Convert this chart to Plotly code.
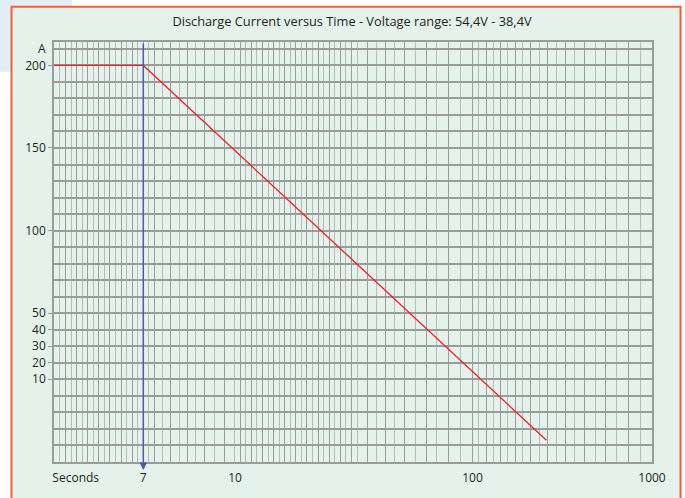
import numpy as np
import plotly.graph_objects as go

# ---------------- data ----------------
title_text = "Discharge Current versus Time - Voltage range: 54,4V - 38,4V"
time_s = [1, 7, 258]            # seconds
current_a = [200, 200, -27]     # amperes
x_tick_secs = [7, 10, 100, 1000]
x_tick_text = ["7", "10", "100", "1000"]
y_tick_vals = [200, 150, 100, 50, 40, 30, 20, 10]
y_tick_text = ["200", "150", "100", "50", "40", "30", "20", "10"]
marker_time_s = 7

# ---------------- layout / scale (the chart uses a piecewise time scale) ----------------
PL, PR = 54.0, 652.0
anchor_secs = [1, 7, 10, 100, 1000]
anchor_px = [54.0, 143.3, 235.0, 472.5, 652.0]


def sx(s):
    return np.interp(np.log10(np.asarray(s, dtype=float)), np.log10(anchor_secs),
                     np.asarray(anchor_px) - PL)


grid_px = [54.3, 59.9, 65.4, 71.0, 76.5, 82.1, 87.7, 93.2, 98.8, 104.3, 109.9, 115.5, 121.0,
           126.6, 132.1, 137.7, 143.3, 148.7, 154.3, 162.3, 170.7, 179.0, 187.3, 195.7, 204.0,
           214.0, 224.0, 234.5, 240.0, 245.7, 251.2, 256.8, 262.3, 268.0, 273.5, 279.0, 284.5,
           290.2, 295.8, 301.3, 306.9, 312.4, 318.0, 323.6, 329.1, 334.7, 340.2, 345.8, 351.3,
           357.0, 367.7, 376.7, 385.7, 394.3, 404.3, 415.0, 426.0, 436.7, 448.3, 460.0, 472.7,
           478.3, 486.0, 493.3, 500.0, 507.3, 515.0, 522.7, 530.7, 539.0, 547.7, 556.0, 565.3,
           574.7, 584.3, 595.0, 605.7, 616.7, 628.3, 640.0, 652.3]
grid_x = [g - PL for g in grid_px]
dark_grid = grid_x[0::2]
light_grid = grid_x[1::2]

FONT = "Open Sans"
GRID = "#9b9b9b"
LIGHT = "#b3beb7"

fig = go.Figure()
fig.add_trace(go.Scatter(x=sx(time_s), y=current_a, mode="lines",
                         line=dict(color="#e8232b", width=1.3),
                         hoverinfo="skip", showlegend=False))
# invisible trace on overlay axis so that it renders labels
fig.add_trace(go.Scatter(x=[0], y=[0], xaxis="x2", mode="markers",
                         marker=dict(opacity=0), hoverinfo="skip", showlegend=False))

x_label_pos = [float(sx(s)) for s in x_tick_secs]

fig.update_layout(
    width=685, height=498,
    margin=dict(l=54, r=33, t=42, b=32),
    paper_bgcolor="white",
    plot_bgcolor="rgba(0,0,0,0)",
    font=dict(family=FONT, size=12, color="#231f20"),
    title=dict(text=title_text, x=352 / 685, xanchor="center", y=1 - 22 / 498,
               yanchor="middle", font=dict(family=FONT, size=12.8, color="#231f20")),
    xaxis=dict(range=[0, PR - PL], tickmode="array", tickvals=dark_grid,
               showticklabels=False, showgrid=True, gridcolor=GRID, gridwidth=1,
               minor=dict(tickmode="array", tickvals=light_grid, showgrid=True,
                          gridcolor=LIGHT, gridwidth=1),
               showline=True, linecolor=GRID, linewidth=1.5, mirror=True,
               zeroline=False, ticks=""),
    xaxis2=dict(range=[0, PR - PL], overlaying="x", anchor="y", side="bottom",
                tickmode="array", tickvals=[21.7] + x_label_pos,
                ticktext=["Seconds"] + x_tick_text, showgrid=False, zeroline=False,
                ticks="outside", ticklen=5, tickcolor="rgba(0,0,0,0)",
                tickfont=dict(family=FONT, size=12, color="#231f20")),
    yaxis=dict(range=[-40.2, 214.2], tickmode="array", tickvals=y_tick_vals,
               ticktext=y_tick_text, showgrid=True, gridcolor=GRID, gridwidth=1.5,
               minor=dict(dtick=10, tick0=0, showgrid=True, gridcolor=GRID, gridwidth=1.5),
               ticks="outside", ticklen=4, tickcolor=GRID, tickwidth=1,
               zeroline=True, zerolinecolor=GRID, zerolinewidth=1.5,
               showline=True, linecolor=GRID, linewidth=1.5, mirror=True,
               tickfont=dict(family=FONT, size=12, color="#231f20")),
    shapes=[
        dict(type="rect", xref="paper", yref="paper", x0=-0.0903, x1=0.030, y0=0.929, y1=1.1,
             fillcolor="#e2edf7", line=dict(width=0), layer="below"),
        dict(type="rect", xref="paper", yref="paper", x0=-0.0711, x1=1.0477, y0=-0.104,
             y1=1.0837, fillcolor="#e4f2eb", line=dict(color="#f0603f", width=2),
             layer="below"),
    ],
    annotations=[
        dict(text="A", xref="paper", yref="y", x=(35.5 - PL) / (PR - PL), y=210.5,
             showarrow=False, font=dict(family=FONT, size=12, color="#231f20")),
        dict(text="", x=float(sx(marker_time_s)), y=-45, ax=float(sx(marker_time_s)), ay=214.2,
             xref="x", yref="y", axref="x", ayref="y", showarrow=True, arrowhead=2,
             arrowsize=1, arrowwidth=1.5, arrowcolor="#5157a8"),
    ],
)

fig.write_html("out.html", config={"displayModeBar": False},
               post_script="document.body.style.margin='0';")
